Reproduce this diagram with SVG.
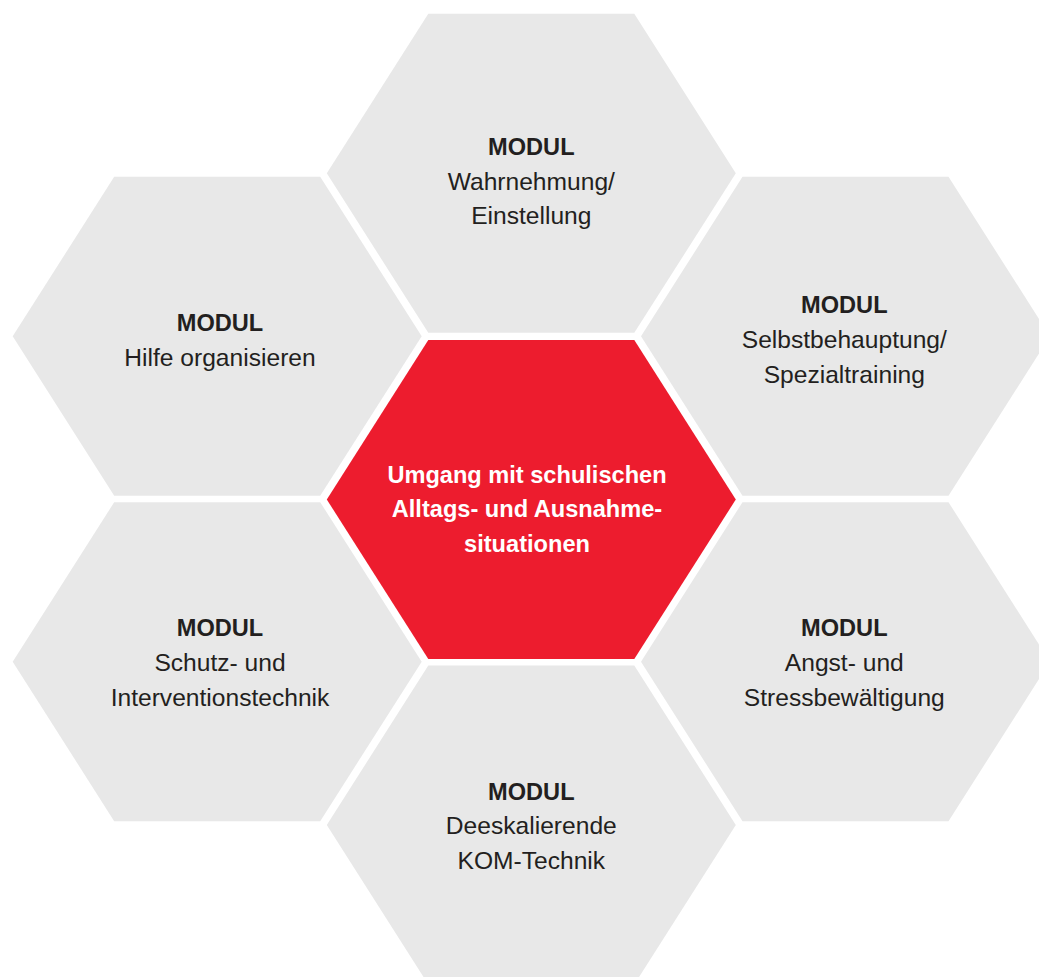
<svg xmlns="http://www.w3.org/2000/svg" width="1039" height="977" viewBox="0 0 1039 977">
  <defs>
    <polygon id="hex" points="-204.5,0 -103,-159.5 103,-159.5 204.5,0 103,159.5 -103,159.5"/>
  </defs>
  <style>
    .g { fill: #e8e8e8; }
    .r { fill: #ed1c2e; }
    text { font-family: "Liberation Sans", Arial, sans-serif; font-size: 24.6px; text-anchor: middle; }
    .t { fill: #231f20; }
    .b { font-weight: bold; font-size: 23.6px; }
    .w { fill: #ffffff; font-weight: bold; font-size: 23.6px; }
  </style>
  <rect width="1039" height="977" fill="#ffffff"/>
  <g id="node-top">
    <use href="#hex" class="g" x="531.3" y="173.3"/>
    <text class="t b" x="531.3" y="155">MODUL</text>
    <text class="t" x="531.3" y="189.5">Wahrnehmung/</text>
    <text class="t" x="531.3" y="224">Einstellung</text>
  </g>
  <g id="node-left-top">
    <use href="#hex" class="g" x="217.2" y="336.3"/>
    <text class="t b" x="220" y="331">MODUL</text>
    <text class="t" x="220" y="365.7">Hilfe organisieren</text>
  </g>
  <g id="node-right-top">
    <use href="#hex" class="g" x="845.5" y="336.3"/>
    <text class="t b" x="844.3" y="313.3">MODUL</text>
    <text class="t" x="844.3" y="348.3">Selbstbehauptung/</text>
    <text class="t" x="844.3" y="382.7">Spezialtraining</text>
  </g>
  <g id="node-center">
    <use href="#hex" class="r" x="531.3" y="499.5"/>
    <text class="w" x="527" y="483.3">Umgang mit schulischen</text>
    <text class="w" x="527" y="517.3">Alltags- und Ausnahme-</text>
    <text class="w" x="527" y="552.3">situationen</text>
  </g>
  <g id="node-left-bottom">
    <use href="#hex" class="g" x="217.2" y="661.7"/>
    <text class="t b" x="220" y="635.7">MODUL</text>
    <text class="t" x="220" y="670.7">Schutz- und</text>
    <text class="t" x="220" y="705.7">Interventionstechnik</text>
  </g>
  <g id="node-right-bottom">
    <use href="#hex" class="g" x="845.5" y="661.7"/>
    <text class="t b" x="844.3" y="635.7">MODUL</text>
    <text class="t" x="844.3" y="670.7">Angst- und</text>
    <text class="t" x="844.3" y="705.7">Stressbewältigung</text>
  </g>
  <g id="node-bottom">
    <use href="#hex" class="g" x="531.3" y="825"/>
    <text class="t b" x="531.3" y="800">MODUL</text>
    <text class="t" x="531.3" y="834.3">Deeskalierende</text>
    <text class="t" x="531.3" y="869">KOM-Technik</text>
  </g>
  <g id="connectors"></g>
</svg>
